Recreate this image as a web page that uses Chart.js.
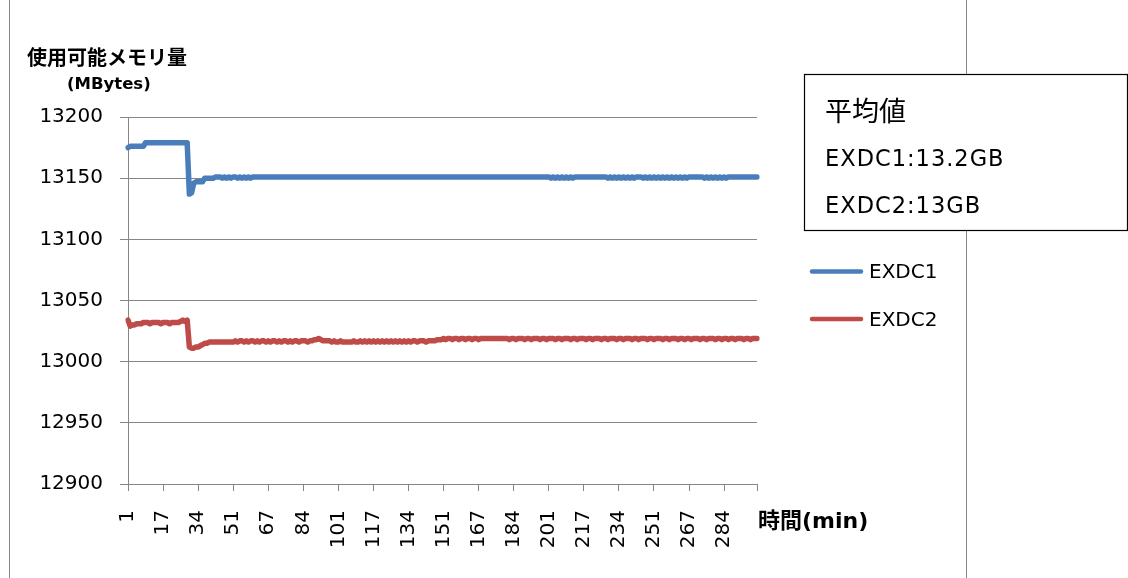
<!DOCTYPE html>
<html>
<head>
<meta charset="utf-8">
<script src="https://cdn.jsdelivr.net/npm/chart.js@4/dist/chart.umd.min.js"></script>
<style>
  html, body { margin: 0; padding: 0; background: #ffffff; }
  #wrap { width: 1128px; height: 578px; position: relative; }
</style>
</head>
<body>
<div id="wrap"><canvas id="c" width="1128" height="578"></canvas></div>
<script>
// Time axis labels shown every 16 samples
const tickLabels = ["1","17","34","51","67","84","101","117","134","151","167","184","201","217","234","251","267","284"];
const tickEvery = 16;

// Available memory (MBytes), one value per sample, 16 samples per row
const exdc1 = [
  13175,13176,13176,13176,13176,13176,13176,13176,13179,13179,13179,13179,13179,13179,13179,13179,
  13179,13179,13179,13179,13179,13179,13179,13179,13179,13179,13179,13179,13137,13138,13146,13147,
  13147,13147,13147,13150,13150,13150,13150,13150,13151,13151,13151,13150,13151,13150,13151,13150,
  13151,13151,13150,13151,13150,13151,13150,13151,13150,13151,13151,13151,13151,13151,13151,13151,
  13151,13151,13151,13151,13151,13151,13151,13151,13151,13151,13151,13151,13151,13151,13151,13151,
  13151,13151,13151,13151,13151,13151,13151,13151,13151,13151,13151,13151,13151,13151,13151,13151,
  13151,13151,13151,13151,13151,13151,13151,13151,13151,13151,13151,13151,13151,13151,13151,13151,
  13151,13151,13151,13151,13151,13151,13151,13151,13151,13151,13151,13151,13151,13151,13151,13151,
  13151,13151,13151,13151,13151,13151,13151,13151,13151,13151,13151,13151,13151,13151,13151,13151,
  13151,13151,13151,13151,13151,13151,13151,13151,13151,13151,13151,13151,13151,13151,13151,13151,
  13151,13151,13151,13151,13151,13151,13151,13151,13151,13151,13151,13151,13151,13151,13151,13151,
  13151,13151,13151,13151,13151,13151,13151,13151,13151,13151,13151,13151,13151,13151,13151,13151,
  13151,13150,13151,13150,13151,13150,13151,13150,13151,13150,13151,13150,13151,13151,13151,13151,
  13151,13151,13151,13151,13151,13151,13151,13151,13151,13151,13151,13150,13151,13150,13151,13150,
  13151,13150,13151,13150,13151,13150,13151,13150,13151,13151,13151,13150,13151,13150,13151,13150,
  13151,13150,13151,13150,13151,13150,13151,13150,13151,13150,13151,13150,13151,13150,13151,13150,
  13151,13151,13151,13151,13151,13151,13151,13150,13151,13150,13151,13150,13151,13150,13151,13150,
  13151,13150,13151,13151,13151,13151,13151,13151,13151,13151,13151,13151,13151,13151,13151,13151
];
const exdc2 = [
  13034,13029,13030,13030,13031,13031,13031,13032,13032,13032,13031,13032,13032,13032,13032,13031,
  13032,13032,13032,13031,13032,13032,13032,13032,13033,13034,13033,13034,13012,13011,13011,13012,
  13012,13013,13014,13015,13015,13016,13016,13016,13016,13016,13016,13016,13016,13016,13016,13016,
  13016,13017,13016,13017,13017,13016,13017,13016,13017,13017,13016,13017,13016,13017,13017,13016,
  13017,13016,13017,13017,13016,13017,13016,13017,13017,13016,13017,13016,13017,13017,13016,13017,
  13017,13017,13016,13017,13017,13018,13018,13019,13018,13017,13017,13017,13017,13016,13017,13016,
  13016,13017,13016,13016,13016,13016,13016,13017,13016,13016,13017,13016,13017,13016,13017,13016,
  13017,13016,13017,13016,13017,13016,13017,13016,13017,13016,13017,13016,13017,13016,13017,13016,
  13017,13016,13017,13017,13016,13017,13017,13017,13016,13017,13017,13017,13017,13018,13018,13018,
  13019,13018,13019,13019,13018,13019,13019,13018,13019,13019,13018,13019,13019,13018,13019,13019,
  13018,13019,13019,13019,13019,13019,13019,13019,13019,13019,13019,13019,13019,13019,13018,13019,
  13019,13018,13019,13019,13019,13018,13019,13019,13018,13019,13019,13019,13018,13019,13019,13018,
  13019,13019,13019,13018,13019,13019,13018,13019,13019,13019,13018,13019,13019,13018,13019,13019,
  13019,13018,13019,13019,13018,13019,13019,13019,13018,13019,13019,13018,13019,13019,13019,13018,
  13019,13019,13018,13019,13019,13019,13018,13019,13019,13018,13019,13019,13019,13018,13019,13019,
  13018,13019,13019,13019,13018,13019,13019,13018,13019,13019,13019,13018,13019,13019,13018,13019,
  13019,13018,13019,13019,13019,13018,13019,13019,13018,13019,13019,13019,13018,13019,13019,13018,
  13019,13019,13018,13019,13019,13018,13019,13019,13019,13018,13019,13019,13018,13019,13019,13019
];

const seriesNames = ["EXDC1", "EXDC2"];
const seriesColors = ["#4A7EBB", "#BE4B48"];

const yTitle = "使用可能メモリ量";
const yUnit = "(MBytes)";
const xTitle = "時間(min)";
const noteTitle = "平均値";
const noteLines = ["EXDC1:13.2GB", "EXDC2:13GB"];

const categories = exdc1.map((_, i) => i);

const LATIN = "'DejaVu Sans', 'Noto Sans CJK JP', sans-serif";
const CJK = "'Noto Sans CJK JP', 'DejaVu Sans', sans-serif";
const GRID = "#868686";

// Frame, headings, average box and legend drawn around the plot
const decorations = {
  id: "decorations",
  beforeDraw(chart) {
    const ctx = chart.ctx;
    ctx.save();
    ctx.fillStyle = "#ffffff";
    ctx.fillRect(0, 0, chart.width, chart.height);
    ctx.strokeStyle = GRID;
    ctx.lineWidth = 1;
    ctx.beginPath();
    ctx.moveTo(9.5, 0); ctx.lineTo(9.5, chart.height);
    ctx.moveTo(966.5, 0); ctx.lineTo(966.5, chart.height);
    ctx.stroke();
    ctx.restore();
  },
  afterDraw(chart) {
    const ctx = chart.ctx;
    const area = chart.chartArea;
    ctx.save();
    ctx.fillStyle = "#000000";
    ctx.textBaseline = "middle";

    // axis headings
    ctx.textAlign = "left";
    ctx.font = "bold 20px " + CJK;
    ctx.fillText(yTitle, 27, 57);
    ctx.font = "bold 16.5px " + LATIN;
    ctx.fillText(yUnit, 67, 85);
    ctx.font = "bold 22px " + LATIN;
    ctx.fillText(xTitle, area.right + 1, 522);

    // average box
    ctx.fillStyle = "#ffffff";
    ctx.fillRect(804.5, 74.5, 323, 156);
    ctx.strokeStyle = "#000000";
    ctx.lineWidth = 1.2;
    ctx.strokeRect(804.5, 74.5, 323, 156);
    ctx.fillStyle = "#000000";
    ctx.font = "27px " + CJK;
    ctx.fillText(noteTitle, 825, 111);
    ctx.font = "22.5px " + LATIN;
    ctx.letterSpacing = "1px";
    ctx.fillText(noteLines[0], 825, 160);
    ctx.fillText(noteLines[1], 825, 207);
    ctx.letterSpacing = "0px";

    // legend
    const rows = [271.5, 319];
    chart.data.datasets.forEach((ds, i) => {
      const y = rows[i];
      ctx.strokeStyle = ds.borderColor;
      ctx.lineWidth = 4.5;
      ctx.lineCap = "round";
      ctx.beginPath();
      ctx.moveTo(812, y); ctx.lineTo(861, y);
      ctx.stroke();
      ctx.fillStyle = "#000000";
      ctx.font = "20px " + LATIN;
      ctx.fillText(ds.label, 869, y + 1.5);
    });
    ctx.restore();
  }
};

new Chart(document.getElementById("c"), {
  type: "line",
  data: {
    labels: categories,
    datasets: [
      { label: seriesNames[0], data: exdc1, borderColor: seriesColors[0], backgroundColor: seriesColors[0] },
      { label: seriesNames[1], data: exdc2, borderColor: seriesColors[1], backgroundColor: seriesColors[1] }
    ]
  },
  options: {
    responsive: false,
    animation: false,
    devicePixelRatio: 1,
    layout: { padding: { left: 0, right: 371, top: 117, bottom: 0 } },
    elements: {
      line: { borderWidth: 5.5, tension: 0, borderJoinStyle: "round", borderCapStyle: "round", fill: false },
      point: { radius: 0, hoverRadius: 0 }
    },
    plugins: {
      legend: { display: false },
      tooltip: { enabled: false },
      title: { display: false }
    },
    scales: {
      x: {
        type: "category",
        offset: false,
        afterFit(scale) { scale.height = 94; },
        border: { display: true, color: GRID, width: 1 },
        grid: {
          drawOnChartArea: false,
          drawTicks: true,
          tickLength: 7,
          color: (c) => (c.index % tickEvery === 0 || c.index === categories.length - 1) ? GRID : "rgba(0,0,0,0)"
        },
        ticks: {
          autoSkip: false,
          maxRotation: 90,
          minRotation: 90,
          padding: 19,
          color: "#000000",
          font: { family: LATIN, size: 20 },
          callback: (value, index) => index % tickEvery === 0 ? (tickLabels[index / tickEvery] || "") : ""
        }
      },
      y: {
        min: 12900,
        max: 13200,
        afterFit(scale) { scale.width = 128; },
        border: { display: true, color: GRID, width: 1 },
        grid: { color: GRID, lineWidth: 1, tickLength: 8 },
        ticks: {
          stepSize: 50,
          padding: 17,
          color: "#000000",
          font: { family: LATIN, size: 20 },
          callback: (value) => String(value)
        }
      }
    }
  },
  plugins: [decorations]
});
</script>
</body>
</html>
